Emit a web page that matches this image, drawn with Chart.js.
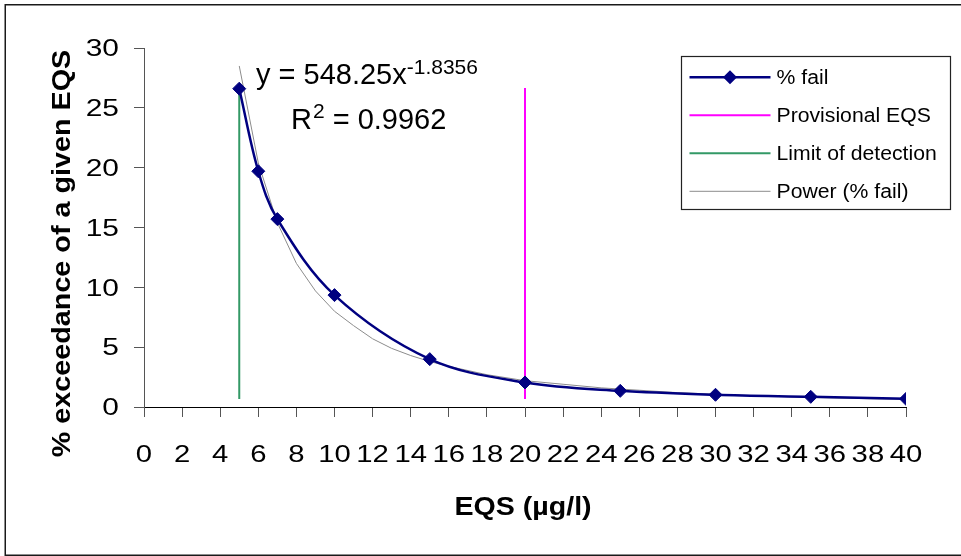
<!DOCTYPE html>
<html>
<head>
<meta charset="utf-8">
<script src="https://cdn.jsdelivr.net/npm/chart.js@4"></script>
<style>
html,body{margin:0;padding:0;background:#fff;}
canvas{display:block;}
</style>
</head>
<body>
<canvas id="c" width="961" height="556"></canvas>
<script>
// ---- data ----
const eqsValues   = [5, 6, 7, 10, 15, 20, 25, 30, 35, 40];
const failPercent = [26.6, 19.7, 15.7, 9.35, 4.0, 2.05, 1.35, 1.02, 0.85, 0.68];

const powerX = [5, 6, 7, 8, 9, 10, 11, 12, 13, 14, 15, 16, 18, 20, 22, 24, 26, 28, 30, 32, 35, 38, 40];
const powerY = [28.5, 20.4, 15.4, 12.0, 9.7, 8.0, 6.8, 5.7, 4.9, 4.3, 3.8, 3.4, 2.7, 2.2, 1.9, 1.6, 1.4, 1.2, 1.07, 0.95, 0.8, 0.69, 0.63];

const provisionalEqsX = [20, 20];
const provisionalEqsY = [0.67, 26.65];
const detectionLimitX = [5, 5];
const detectionLimitY = [0.67, 26.6];

const xTickLabels = ['0','2','4','6','8','10','12','14','16','18','20','22','24','26','28','30','32','34','36','38','40'];
const yTickLabels = ['0','5','10','15','20','25','30'];

const seriesLabels = ['% fail', 'Provisional EQS', 'Limit of detection', 'Power (% fail)'];
const xTitle = 'EQS (µg/l)';
const yTitle = '% exceedance of a given EQS';
const eqMain = 'y = 548.25x';
const eqExp = '-1.8356';
const r2Main = 'R';
const r2Exp = '2';
const r2Rest = ' = 0.9962';

const pts = (xs, ys) => xs.map((x, i) => ({x: x, y: ys[i]}));

const FONT = '"Liberation Sans", Arial, Helvetica, sans-serif';

function drawScaled(ctx, text, x, y, sx, sy, align) {
  ctx.save();
  ctx.translate(x, y);
  ctx.scale(sx, sy);
  ctx.textAlign = align;
  ctx.textBaseline = 'alphabetic';
  ctx.fillText(text, 0, 0);
  ctx.restore();
}

const decorPlugin = {
  id: 'decor',
  afterDraw(chart) {
    const ctx = chart.ctx;
    const xs = chart.scales.x, ys = chart.scales.y;
    ctx.save();
    // outer frame
    ctx.strokeStyle = '#1a1a1a';
    ctx.lineWidth = 1.5;
    ctx.beginPath();
    ctx.moveTo(965, 4.75);
    ctx.lineTo(5.25, 4.75);
    ctx.lineTo(5.25, 555.25);
    ctx.lineTo(965, 555.25);
    ctx.stroke();

    ctx.fillStyle = '#000';
    // y tick labels
    ctx.font = '23px ' + FONT;
    ys.ticks.forEach((t, i) => {
      const py = ys.getPixelForTick(i);
      drawScaled(ctx, yTickLabels[i], 119, py + 8.2, 1.3, 1, 'right');
    });
    // x tick labels
    ctx.font = '24px ' + FONT;
    xs.ticks.forEach((t, i) => {
      const px = xs.getPixelForTick(i);
      drawScaled(ctx, xTickLabels[i], px, 461.5, 1.22, 1, 'center');
    });

    // axis titles
    ctx.font = 'bold 26px ' + FONT;
    drawScaled(ctx, xTitle, 523, 514.5, 1.1, 1, 'center');
    ctx.save();
    ctx.translate(70, 253.5);
    ctx.rotate(-Math.PI / 2);
    ctx.font = 'bold 23px ' + FONT;
    ctx.scale(1.25, 1.13);
    ctx.textAlign = 'center';
    ctx.textBaseline = 'alphabetic';
    ctx.fillText(yTitle, 0, 0);
    ctx.restore();

    // trendline equation
    ctx.textAlign = 'left';
    ctx.textBaseline = 'alphabetic';
    ctx.font = '29px ' + FONT;
    let x0 = 256;
    ctx.fillText(eqMain, x0, 84);
    x0 += ctx.measureText(eqMain).width;
    ctx.font = '21px ' + FONT;
    ctx.fillText(eqExp, x0, 73.5);
    ctx.font = '29px ' + FONT;
    x0 = 291;
    ctx.fillText(r2Main, x0, 128.5);
    x0 += ctx.measureText(r2Main).width + 1;
    ctx.font = '21px ' + FONT;
    ctx.fillText(r2Exp, x0, 117.5);
    x0 += ctx.measureText(r2Exp).width;
    ctx.font = '29px ' + FONT;
    ctx.fillText(r2Rest, x0, 128.5);

    // legend
    ctx.fillStyle = '#fff';
    ctx.fillRect(681.5, 56.5, 269, 153);
    ctx.strokeStyle = '#222';
    ctx.lineWidth = 1.2;
    ctx.strokeRect(681.5, 56.5, 269, 153);
    const rowY = [77.3, 115.3, 153.3, 191.3];
    chart.data.datasets.forEach((ds, i) => {
      const y = rowY[i];
      ctx.strokeStyle = ds.borderColor;
      ctx.lineWidth = ds.borderWidth;
      ctx.beginPath();
      ctx.moveTo(689.5, y);
      ctx.lineTo(770.5, y);
      ctx.stroke();
      if (ds.pointRadius > 0) {
        const r = 7;
        ctx.fillStyle = ds.pointBackgroundColor;
        ctx.beginPath();
        ctx.moveTo(730 - r, y);
        ctx.lineTo(730, y - r);
        ctx.lineTo(730 + r, y);
        ctx.lineTo(730, y + r);
        ctx.closePath();
        ctx.fill();
      }
      ctx.fillStyle = '#000';
      ctx.font = '20px ' + FONT;
      drawScaled(ctx, ds.label, 776.5, y + 6.3, 1.06, 1, 'left');
    });
    ctx.restore();
  }
};

const chart = new Chart(document.getElementById('c'), {
  type: 'line',
  data: {
    datasets: [
      {
        label: seriesLabels[0],
        data: pts(eqsValues, failPercent),
        borderColor: '#000080',
        backgroundColor: '#000080',
        borderWidth: 2.5,
        pointStyle: 'rectRot',
        pointRadius: 6.5,
        pointBorderWidth: 1,
        pointBackgroundColor: '#000080',
        pointBorderColor: '#000080',
        tension: 0.35,
        fill: false
      },
      {
        label: seriesLabels[1],
        data: pts(provisionalEqsX, provisionalEqsY),
        borderColor: '#ff00ff',
        borderWidth: 2,
        pointRadius: 0,
        fill: false
      },
      {
        label: seriesLabels[2],
        data: pts(detectionLimitX, detectionLimitY),
        borderColor: '#339966',
        borderWidth: 2,
        pointRadius: 0,
        fill: false
      },
      {
        label: seriesLabels[3],
        data: pts(powerX, powerY),
        borderColor: '#8c8c8c',
        borderWidth: 1,
        pointRadius: 0,
        tension: 0,
        fill: false
      }
    ]
  },
  options: {
    responsive: false,
    devicePixelRatio: 1,
    animation: false,
    events: [],
    layout: { padding: { left: 0, top: 48, right: 55, bottom: 0 } },
    plugins: { legend: { display: false }, tooltip: { enabled: false } },
    scales: {
      x: {
        type: 'linear',
        min: 0, max: 40,
        ticks: { stepSize: 2, display: false },
        grid: { display: true, drawOnChartArea: false, drawTicks: true, tickLength: 10, color: '#555' },
        border: { display: true, color: '#000', width: 1 },
        afterFit(scale) { scale.height = 149; }
      },
      y: {
        type: 'linear',
        min: 0, max: 30,
        ticks: { stepSize: 5, display: false },
        grid: { display: true, drawOnChartArea: false, drawTicks: true, tickLength: 10, color: '#555' },
        border: { display: true, color: '#555', width: 1 },
        afterFit(scale) { scale.width = 144; }
      }
    }
  },
  plugins: [decorPlugin]
});
</script>
</body>
</html>
